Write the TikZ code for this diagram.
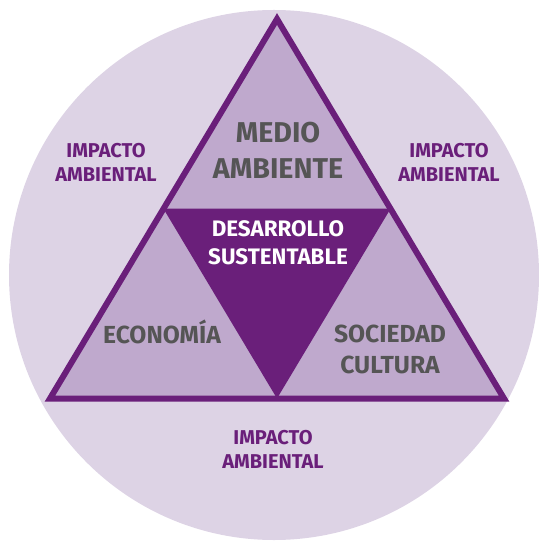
\documentclass[tikz,border=0pt]{standalone}
\usepackage{fontspec}
\setmainfont{Fira Sans}
\usetikzlibrary{calc}
\definecolor{circleLila}{RGB}{221,211,229}
\definecolor{midLila}{RGB}{191,169,205}
\definecolor{darkLila}{RGB}{106,31,122}
\definecolor{textGris}{RGB}{85,85,85}
\tikzset{
  bigtxt/.style={align=center,text=textGris,font=\bfseries\fontsize{21.5}{27}\selectfont},
  midtxt/.style={align=center,text=textGris,font=\bfseries\fontsize{18.5}{23.25}\selectfont},
  centertxt/.style={align=center,text=white,font=\bfseries\fontsize{16.8}{21}\selectfont},
  impactotxt/.style={align=center,text=darkLila,font=\bfseries\fontsize{15}{18}\selectfont}
}
\begin{document}
\begin{tikzpicture}[x=0.75pt,y=0.75pt,yscale=-1,xscale=1]
\path[use as bounding box] (0,0) rectangle (538,541);

%Shape: Circle [id:circulo]
\draw [fill=circleLila, draw=none] (274,275) circle (265);

%Shape: Triangle [id:triangulo]
\coordinate (top) at (277,19);
\coordinate (left) at (50,398.5);
\coordinate (right) at (504,398.5);
\fill [midLila] (top) -- (left) -- (right) -- cycle;

%Shape: Triangle [id:centro]
\fill [darkLila] ($(top)!0.5!(left)$) -- ($(top)!0.5!(right)$) -- ($(left)!0.5!(right)$) -- cycle;

%Shape: Triangle outline
\draw [darkLila, line width=4.5pt, line join=miter] (top) -- (left) -- (right) -- cycle;

% Text Node
\node [bigtxt] (medio) at (278,150.5) {MEDIO\\AMBIENTE};
% Text Node
\node [centertxt] (desarrollo) at (278,242.5) {DESARROLLO\\SUSTENTABLE};
% Text Node
\node [midtxt, anchor=base] (economia) at (162,343) {ECONOMÍA};
% Text Node
\node [midtxt] (sociedad) at (390,349.5) {SOCIEDAD\\CULTURA};
% Text Node
\node [impactotxt] (impactoL) at (106,162.5) {IMPACTO\\AMBIENTAL};
% Text Node
\node [impactotxt] (impactoR) at (449,162.5) {IMPACTO\\AMBIENTAL};
% Text Node
\node [impactotxt] (impactoB) at (273,449) {IMPACTO\\AMBIENTAL};

\end{tikzpicture}
\end{document}
